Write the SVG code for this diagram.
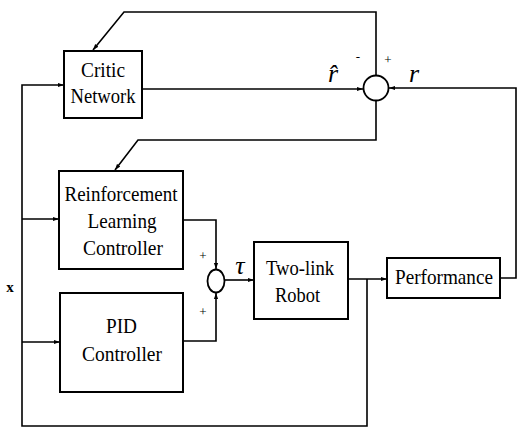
<svg xmlns="http://www.w3.org/2000/svg" width="518" height="430" viewBox="0 0 518 430">
  <defs>
    <marker id="arr" viewBox="0 0 10 10" refX="10" refY="5" markerWidth="6" markerHeight="6" markerUnits="userSpaceOnUse" orient="auto">
      <path d="M0,1.5 L10,5 L0,8.5 Z" fill="#000"/>
    </marker>
    <style>
      .box { fill: #fff; stroke: #000; stroke-width: 2; }
      .wire { fill: none; stroke: #000; stroke-width: 1.6; }
      text { font-family: "Liberation Serif", "Times New Roman", serif; fill: #000; }
      .lbl { text-anchor: middle; }
      .sgn { text-anchor: middle; }
      .sym { font-style: italic; text-anchor: middle; }
    </style>
  </defs>
  <rect width="518" height="430" fill="#fff"/>

  <!-- connectors -->
  <g id="connectors" class="wire">
    <!-- reinforcement error back to critic -->
    <path d="M376,75 V12 H124 L93,50" marker-end="url(#arr)"/>
    <!-- critic estimate into comparator -->
    <path d="M142,89 H363" marker-end="url(#arr)"/>
    <!-- performance signal into comparator -->
    <path d="M500,278 H516 V88 H389" marker-end="url(#arr)"/>
    <!-- comparator output to RL controller -->
    <path d="M376,100 V140 H138 L115,170" marker-end="url(#arr)"/>
    <!-- state x distribution -->
    <path d="M367,279 V426 H22 V85 H64" marker-end="url(#arr)"/>
    <path d="M22,219 H59" marker-end="url(#arr)"/>
    <path d="M22,342 H60" marker-end="url(#arr)"/>
    <!-- controller outputs into torque summer -->
    <path d="M183,220 H216 V269" marker-end="url(#arr)"/>
    <path d="M183,341 H216 V293" marker-end="url(#arr)"/>
    <!-- torque to robot -->
    <path d="M225,280 H254" marker-end="url(#arr)"/>
    <!-- robot to performance -->
    <path d="M348,279 H387" marker-end="url(#arr)"/>
  </g>

  <g id="critic">
    <rect class="box" x="64" y="51" width="78" height="67"/>
    <text class="lbl" x="103" y="77" font-size="22" textLength="44" lengthAdjust="spacingAndGlyphs">Critic</text>
    <text class="lbl" x="103" y="103" font-size="22" textLength="65" lengthAdjust="spacingAndGlyphs">Network</text>
  </g>

  <g id="comparator">
    <circle cx="376" cy="88" r="12.5" fill="#fff" stroke="#000" stroke-width="1.8"/>
    <text class="sgn" x="358" y="61" font-size="13">-</text>
    <text class="sgn" x="388" y="64" font-size="13">+</text>
    <text class="sym" x="333" y="82" font-size="26">r̂</text>
    <text class="sym" x="414" y="82" font-size="26">r</text>
  </g>

  <g id="rl-controller">
    <rect class="box" x="59" y="171" width="124" height="98"/>
    <text class="lbl" x="121" y="201" font-size="22" textLength="113" lengthAdjust="spacingAndGlyphs">Reinforcement</text>
    <text class="lbl" x="122" y="228" font-size="22" textLength="69" lengthAdjust="spacingAndGlyphs">Learning</text>
    <text class="lbl" x="123" y="255" font-size="22" textLength="80" lengthAdjust="spacingAndGlyphs">Controller</text>
  </g>

  <g id="pid-controller">
    <rect class="box" x="60" y="293" width="123" height="99"/>
    <text class="lbl" x="121.5" y="333" font-size="22" textLength="31" lengthAdjust="spacingAndGlyphs">PID</text>
    <text class="lbl" x="122" y="361" font-size="22" textLength="80" lengthAdjust="spacingAndGlyphs">Controller</text>
  </g>

  <g id="torque-sum">
    <ellipse cx="216" cy="281" rx="8.5" ry="11.5" fill="#fff" stroke="#000" stroke-width="1.8"/>
    <text class="sgn" x="203" y="260" font-size="13">+</text>
    <text class="sgn" x="203" y="316" font-size="13">+</text>
    <text class="sym" x="240" y="274" font-size="26">τ</text>
  </g>

  <g id="robot">
    <rect class="box" x="254" y="242" width="94" height="77"/>
    <text class="lbl" x="300" y="275" font-size="22" textLength="68" lengthAdjust="spacingAndGlyphs">Two-link</text>
    <text class="lbl" x="297.5" y="302" font-size="22" textLength="45" lengthAdjust="spacingAndGlyphs">Robot</text>
  </g>

  <g id="performance">
    <rect class="box" x="387" y="258" width="113" height="40"/>
    <text class="lbl" x="444" y="284" font-size="22" textLength="98" lengthAdjust="spacingAndGlyphs">Performance</text>
  </g>

  <g id="state-label">
    <text x="10" y="292" font-weight="bold" font-size="15" text-anchor="middle">x</text>
  </g>
</svg>
